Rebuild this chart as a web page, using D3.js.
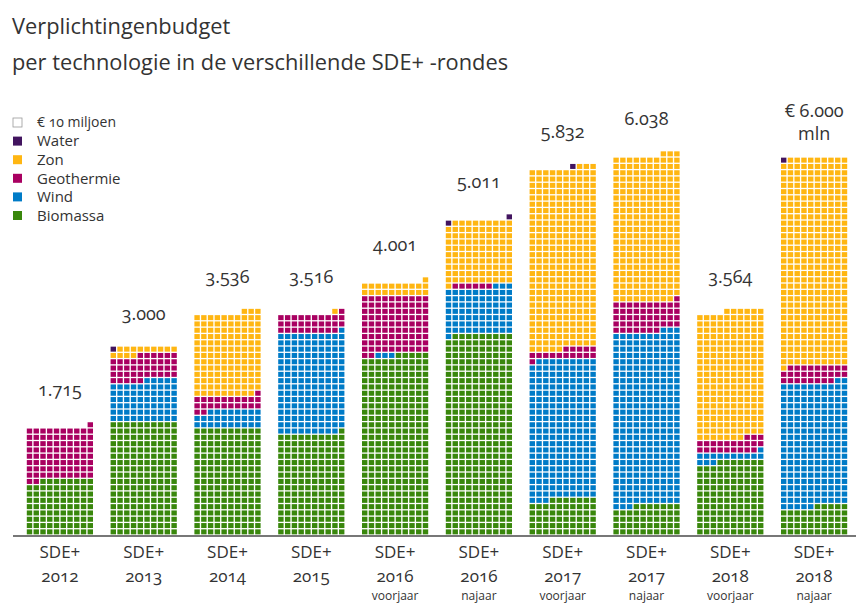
<!DOCTYPE html>
<html>
<head>
<meta charset="utf-8">
<script src="https://cdn.jsdelivr.net/npm/d3@7"></script>
<style>
  html, body { margin: 0; padding: 0; background: #fff; }
  svg { display: block; font-family: "Open Sans", "Noto Sans", sans-serif; font-variant-numeric: oldstyle-nums; }
</style>
</head>
<body>
<svg id="chart" width="859" height="603"></svg>
<script>
// ---- data (values in € mln; one square = € 10 mln) ----
const rounds = ["2012", "2013", "2014", "2015", "2016", "2016", "2017", "2017", "2018", "2018"];
const seasons = ["", "", "", "", "voorjaar", "najaar", "voorjaar", "najaar", "voorjaar", "najaar"];
const totalLabels = ["1.715", "3.000", "3.536", "3.516", "4.001", "5.011", "5.832", "6.038", "3.564", "€ 6.000|mln"];
const biomassa   = [882, 1800, 1702, 1610, 2850, 3190,  570,  474, 1170,  450];
const wind       = [  0,  650,  280, 1600,   30,  740, 2216, 2760,  140, 1970];
const geothermie = [833,  410,  230,  300,  915,   60,  160,  480,  220,  270];
const zon        = [  0,  130, 1324,    6,  206, 1001, 2876, 2324, 2034, 3300];
const water      = [  0,   10,    0,    0,    0,   20,   10,    0,    0,   10];
const categories = ["Biomassa", "Wind", "Geothermie", "Zon", "Water"];
const legendLabels = ["€ 10 miljoen", "Water", "Zon", "Geothermie", "Wind", "Biomassa"];
const unit = 10;

const seriesByCat = { Biomassa: biomassa, Wind: wind, Geothermie: geothermie, Zon: zon, Water: water };
const colors = { Biomassa: "#39870c", Wind: "#007bc7", Geothermie: "#a90061", Zon: "#ffb612", Water: "#42145f" };

const svg = d3.select("#chart");
const textColor = "#333";

// Title
svg.append("text").attr("x", 12).attr("y", 34).attr("font-size", 21.8).attr("fill", textColor)
  .text("Verplichtingenbudget");
svg.append("text").attr("x", 12).attr("y", 70).attr("font-size", 21.8).attr("fill", textColor)
  .text("per technologie in de verschillende SDE+ -rondes");

// Scales
const x = d3.scaleBand().domain(d3.range(rounds.length)).range([18, 856]).paddingInner(0.21).paddingOuter(0.105);
const cellX = d3.scaleBand().domain(d3.range(10)).range([0, x.bandwidth()]).paddingInner(0.2);
const rowY = d3.scaleLinear().domain([0, 60]).range([535, 157]);
const gapY = 1.3;

// Build squares: fill right-to-left, bottom-to-top
const squares = [];
const topRow = [];
rounds.forEach((r, j) => {
  let idx = 0;
  categories.forEach(cat => {
    const n = Math.round(seriesByCat[cat][j] / unit);
    for (let t = 0; t < n; t++) {
      squares.push({ col: j, row: Math.floor(idx / 10), pos: 9 - (idx % 10), cat });
      idx++;
    }
  });
  topRow.push(Math.floor((idx - 1) / 10));
});

svg.append("g").selectAll("rect").data(squares).join("rect")
  .attr("x", d => x(d.col) + cellX(d.pos))
  .attr("y", d => rowY(d.row + 1) + gapY / 2)
  .attr("width", cellX.bandwidth())
  .attr("height", d => rowY(d.row) - rowY(d.row + 1) - gapY)
  .attr("fill", d => colors[d.cat]);

// Axis line
svg.append("line").attr("x1", 13).attr("x2", 856).attr("y1", 536).attr("y2", 536)
  .attr("stroke", "#777").attr("stroke-width", 2);

// Axis labels
const axis = d3.axisBottom(x).tickSize(0).tickFormat(() => "");
const gAxis = svg.append("g").attr("transform", "translate(0,536)").call(axis);
gAxis.attr("font-family", null).attr("font-size", null);
gAxis.select(".domain").remove();
gAxis.selectAll(".tick text").each(function(d) {
  const t = d3.select(this).attr("y", 0).attr("dy", null).attr("fill", textColor);
  t.append("tspan").attr("x", 0).attr("y", 22).attr("font-size", 17).text("SDE+");
  t.append("tspan").attr("x", 0).attr("y", 45.5).attr("font-size", 17).text(rounds[d]);
  if (seasons[d]) t.append("tspan").attr("x", 0).attr("y", 63.5).attr("font-size", 12).text(seasons[d]);
});

// Total labels
totalLabels.forEach((lab, j) => {
  const lines = lab.split("|");
  const top = rowY(topRow[j] + 1);
  const cx = x(j) + x.bandwidth() / 2;
  const t = svg.append("text").attr("text-anchor", "middle").attr("font-size", 18).attr("fill", textColor);
  lines.forEach((ln, k) => {
    const yc = lines.length === 1 ? top - 32 : top - 23 - (lines.length - 1 - k) * 23;
    t.append("tspan").attr("x", cx).attr("y", yc).attr("dy", "0.35em").text(ln);
  });
});

// Legend
const legend = svg.append("g");
legendLabels.forEach((lab, i) => {
  const yc = 122.5 + i * 18.6;
  legend.append("rect").attr("x", 13).attr("y", yc - 4.5).attr("width", 9).attr("height", 9)
    .attr("fill", i === 0 ? "#fff" : colors[lab])
    .attr("stroke", i === 0 ? "#999" : "none").attr("stroke-width", 0.8);
  legend.append("text").attr("x", 37).attr("y", yc).attr("dy", "0.35em")
    .attr("font-size", i === 0 ? 14 : 15).attr("fill", textColor).text(lab);
});
</script>
</body>
</html>
